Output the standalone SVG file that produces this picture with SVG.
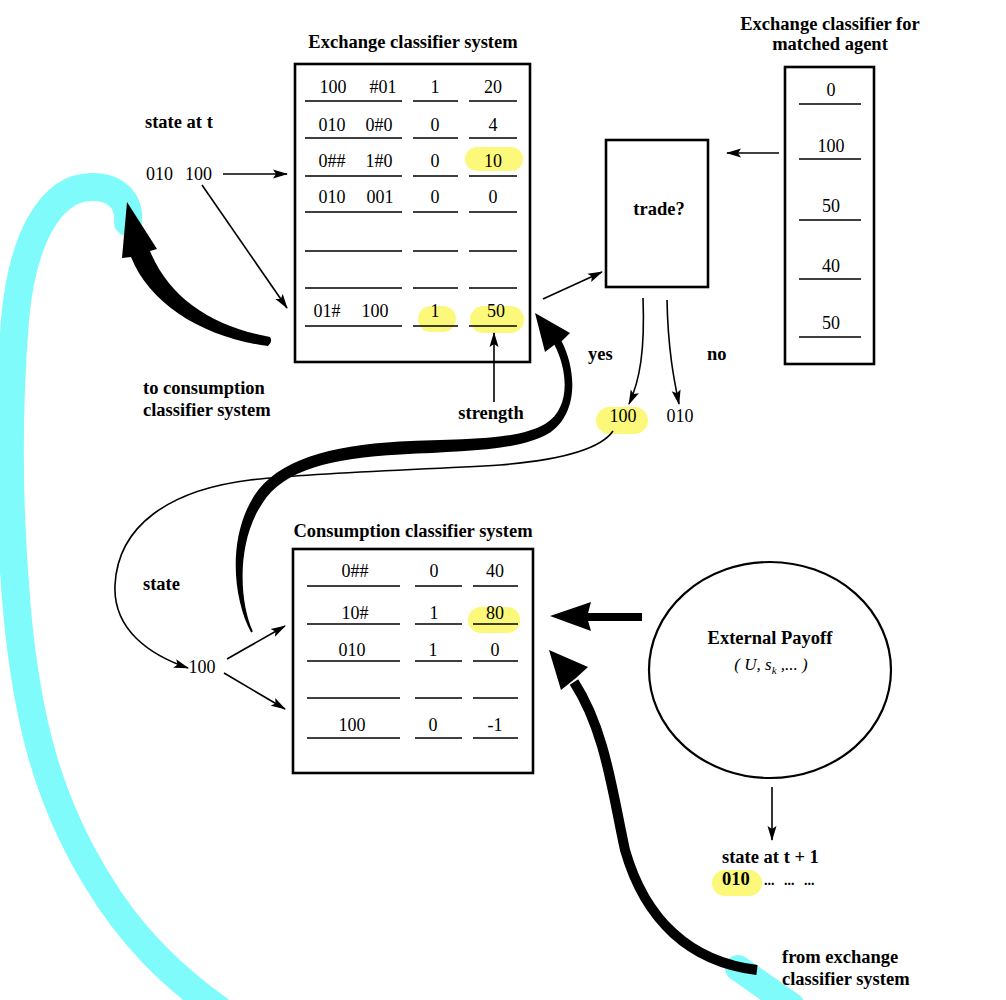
<svg xmlns="http://www.w3.org/2000/svg" width="1006" height="1000" viewBox="0 0 1006 1000">
<defs>
<style>
.n{font-family:"Liberation Serif",serif;font-size:18px;fill:#000}
.c{text-anchor:middle}
.b{font-family:"Liberation Serif",serif;font-size:18.5px;font-weight:bold;fill:#000}
.box{fill:none;stroke:#000;stroke-width:2.6}
.rule{stroke:#000;stroke-width:1.6;fill:none}
.hl{fill:#fcf97a}
.thin{fill:none;stroke:#000;stroke-width:1.6;marker-end:url(#ah)}
.thick{fill:#000;stroke:none}
.cyan{fill:none;stroke:#80fbfb;stroke-linecap:round}
</style>
<marker id="ah" markerUnits="userSpaceOnUse" markerWidth="15" markerHeight="10" refX="14" refY="5" orient="auto">
<path d="M0,0.5 L15,5 L0,9.5 L3,5 z" fill="#000"/>
</marker>
</defs>
<rect width="1006" height="1000" fill="#fff"/>

<g id="cyan-annotation">
<path class="cyan" stroke-width="28" d="M128,222 C130,200 115,187 92,187 C50,187 22,240 15,320 C7,420 9,520 17,610 C27,720 48,800 97,880 C130,935 170,975 222,1012"/>
<path class="cyan" stroke-width="26" d="M738,968 L792,1006"/>
</g>

<g id="exchange-classifier-system">
<text class="b c" x="413" y="48">Exchange classifier system</text>
<rect class="box" x="295" y="64" width="235" height="298"/>
<rect class="hl" x="465" y="147" width="58" height="24" rx="12"/>
<rect class="hl" x="418" y="306" width="38" height="26" rx="13"/>
<rect class="hl" x="470" y="306" width="54" height="27" rx="13.5"/>
<g class="rule">
<path d="M305,101H402M413,101H458M469,101H517"/>
<path d="M305,138H402M413,138H458M469,138H517"/>
<path d="M305,176H402M413,176H458M469,176H517"/>
<path d="M305,212H402M413,212H458M469,212H517"/>
<path d="M305,251H402M413,251H458M469,251H517"/>
<path d="M305,288H402M413,288H458M469,288H517"/>
<path d="M305,326H402M413,326H458M469,326H517"/>
</g>
<text class="n c" x="333" y="93">100</text><text class="n c" x="383" y="93">#01</text><text class="n c" x="435" y="93">1</text><text class="n c" x="493" y="93">20</text>
<text class="n c" x="332" y="131">010</text><text class="n c" x="379" y="131">0#0</text><text class="n c" x="435" y="131">0</text><text class="n c" x="493" y="131">4</text>
<text class="n c" x="332" y="167">0##</text><text class="n c" x="379" y="167">1#0</text><text class="n c" x="435" y="167">0</text><text class="n c" x="493" y="167">10</text>
<text class="n c" x="332" y="203">010</text><text class="n c" x="380" y="203">001</text><text class="n c" x="435" y="203">0</text><text class="n c" x="493" y="203">0</text>
<text class="n c" x="327" y="317">01#</text><text class="n c" x="375" y="317">100</text><text class="n c" x="435" y="317">1</text><text class="n c" x="496" y="317">50</text>
</g>

<g id="matched-agent-classifier">
<text class="b c" x="830" y="30">Exchange classifier for</text>
<text class="b c" x="830" y="50">matched agent</text>
<rect class="box" x="785" y="67" width="89" height="297"/>
<g class="rule">
<path d="M799,104H861M799,159H861M799,220H861M799,279H861M799,337H861"/>
</g>
<text class="n c" x="831" y="96">0</text>
<text class="n c" x="831" y="152">100</text>
<text class="n c" x="831" y="212">50</text>
<text class="n c" x="831" y="272">40</text>
<text class="n c" x="831" y="329">50</text>
</g>

<g id="trade">
<rect class="box" x="606" y="140" width="102" height="147"/>
<text class="b c" x="659" y="215">trade?</text>
</g>

<g id="trade-outputs">
<text class="b" x="588" y="360">yes</text>
<text class="b" x="707" y="360">no</text>
<rect class="hl" x="596" y="407" width="52" height="27" rx="13.5"/>
<text class="n c" x="623" y="422">100</text>
<text class="n c" x="680" y="422">010</text>
</g>

<g id="state-at-t">
<text class="b" x="145" y="128">state at t</text>
<text class="n" x="146" y="180">010<tspan x="185">100</tspan></text>
</g>

<g id="to-consumption-label">
<text class="b" x="143" y="394">to consumption</text>
<text class="b" x="143" y="416">classifier system</text>
</g>

<g id="strength-label">
<text class="b c" x="491" y="419">strength</text>
</g>

<g id="consumption-classifier-system">
<text class="b c" x="413" y="537">Consumption classifier system</text>
<rect class="box" x="293" y="549" width="240" height="224"/>
<rect class="hl" x="468" y="607" width="52" height="26" rx="13"/>
<g class="rule">
<path d="M307,586H400M415,586H462M473,586H518"/>
<path d="M307,624H400M415,624H462M473,624H518"/>
<path d="M307,661H400M415,661H462M473,661H518"/>
<path d="M307,698H400M415,698H462M473,698H518"/>
<path d="M307,738H400M415,738H462M473,738H518"/>
</g>
<text class="n c" x="355" y="577">0##</text><text class="n c" x="434" y="577">0</text><text class="n c" x="495" y="577">40</text>
<text class="n c" x="355" y="619">10#</text><text class="n c" x="434" y="619">1</text><text class="n c" x="495" y="619">80</text>
<text class="n c" x="352" y="656">010</text><text class="n c" x="433" y="656">1</text><text class="n c" x="495" y="656">0</text>
<text class="n c" x="352" y="731">100</text><text class="n c" x="433" y="731">0</text><text class="n c" x="495" y="731">-1</text>
</g>

<g id="state-input">
<text class="b" x="143" y="590">state</text>
<text class="n c" x="202" y="673">100</text>
</g>

<g id="external-payoff">
<ellipse cx="770" cy="670" rx="121" ry="108" fill="none" stroke="#000" stroke-width="2.2"/>
<text class="b c" x="770" y="644">External Payoff</text>
<text class="c" x="771" y="670" style="font-family:'Liberation Serif',serif;font-size:17px;font-style:italic">( U, s<tspan dy="4" font-size="11">k</tspan><tspan dy="-4"> ,... )</tspan></text>
</g>

<g id="state-at-t-plus-1">
<rect class="hl" x="712" y="870" width="50" height="26" rx="13"/>
<text class="b" x="722" y="863">state at t + 1</text>
<text class="b" x="722" y="885">010 <tspan font-size="14" x="764">...</tspan><tspan font-size="14" x="784">...</tspan><tspan font-size="14" x="804">...</tspan></text>
</g>

<g id="from-exchange-label">
<text class="b" x="782" y="963">from exchange</text>
<text class="b" x="782" y="985">classifier system</text>
</g>

<g id="connectors">
<path class="thin" d="M223,174 L287,174"/>
<path class="thin" d="M202,185 L287,308"/>
<path class="thin" d="M543,299 L602,272"/>
<path class="thin" d="M779,153 L727,153"/>
<path class="thin" d="M643,298 C645,350 640,380 629,404"/>
<path class="thin" d="M667,300 C668,350 674,380 679,404"/>
<path class="thin" d="M494,402 L494,333"/>
<path class="thin" d="M772,787 L772,840"/>
<path class="thin" d="M227,659 L285,626"/>
<path class="thin" d="M224,673 L285,709"/>
<path class="thin" d="M613,431 C600,450 560,460 500,465 C420,470 320,472 250,480 C170,490 118,525 115,585 C113,630 150,655 188,668"/>
<path class="thick" d="M270,337 C215,327 170,300 150,251 L157,249 L127,202 L122,258 L131,257 C150,305 205,338 268,346 Q273,342 270,337 Z"/>
<path class="thick" d="M251.1,632.4 C233.5,600 227,540 253.4,497 C276.4,460.2 329,445.6 399.6,441.5 C470,439 518.8,439.6 545.4,423.7 C570.8,408.3 568.1,371 554.4,344.8 L545,352 L535,313 L570,333 L561.6,341.2 C575.9,369 579.2,411.7 550.6,432.3 C521.2,450.4 470,451 400.3,454.5 C331,458.4 283.6,469.8 262.6,503 C237,540 238.5,600 252.9,631.6 Z"/>
<path d="M642,617 L585,617" stroke="#000" stroke-width="8" fill="none"/>
<path class="thick" d="M550,616 L591,602 L587,617 L591,631 Z"/>
<path d="M757,970 C690,962 645,920 625,850 C612,790 605,730 574,682" stroke="#000" stroke-width="10" fill="none"/>
<path class="thick" d="M549,650 L588,667 L576,678 L561,690 Z"/>
</g>
</svg>
